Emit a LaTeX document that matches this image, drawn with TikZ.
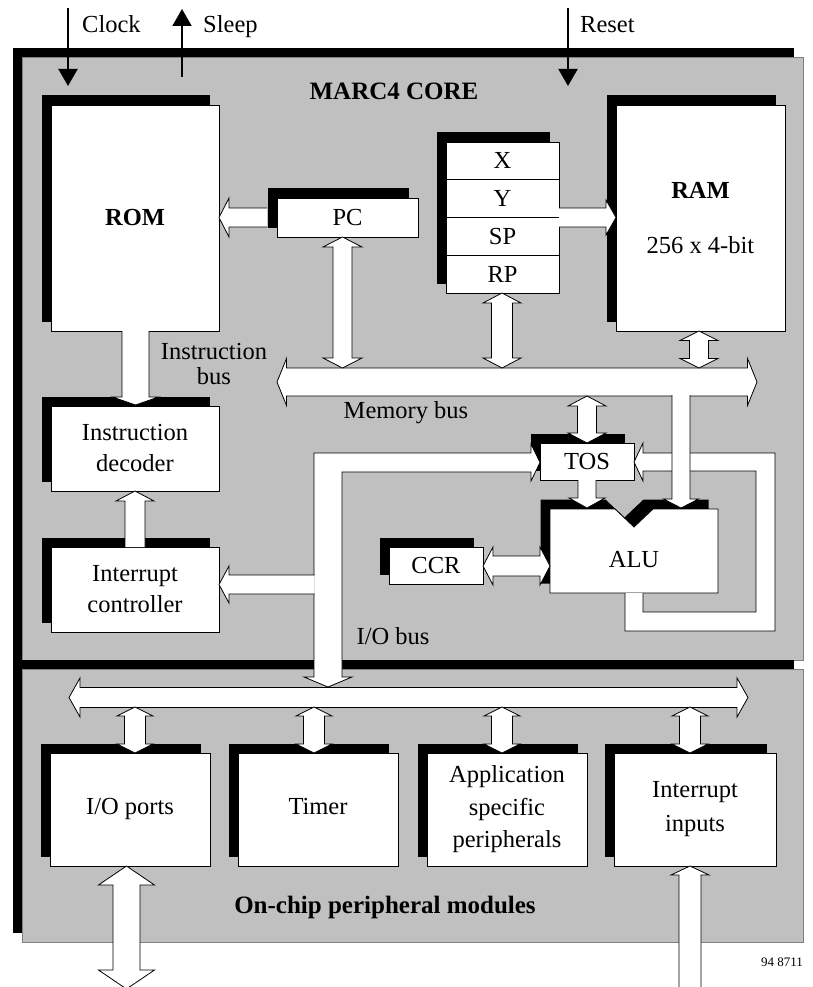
\documentclass[tikz,border=0pt]{standalone}
\usepackage{fontspec}
\setmainfont{Liberation Serif}
\usetikzlibrary{arrows.meta}
\definecolor{panelgray}{HTML}{C0C0C0}
\definecolor{panelline}{HTML}{808080}
\newcommand\myfs{\fontsize{24.5}{26}\selectfont}
\newcommand\mybfs{\fontsize{25}{27}\selectfont\bfseries}
% vertical double arrow: cx, ytop, ybot, shaft half, head half, head length
\newcommand\VDbl[6]{%
 \filldraw[barrow] ({#1-#4},{#2+#6}) -- ({#1-#5},{#2+#6}) -- (#1,#2) -- ({#1+#5},{#2+#6}) -- ({#1+#4},{#2+#6}) -- ({#1+#4},{#3-#6}) -- ({#1+#5},{#3-#6}) -- (#1,#3) -- ({#1-#5},{#3-#6}) -- ({#1-#4},{#3-#6}) -- cycle;}
% horizontal double arrow: cy, xleft, xright, shaft half, head half, head length
\newcommand\HDbl[6]{%
 \filldraw[barrow] ({#2+#6},{#1-#4}) -- ({#2+#6},{#1-#5}) -- (#2,#1) -- ({#2+#6},{#1+#5}) -- ({#2+#6},{#1+#4}) -- ({#3-#6},{#1+#4}) -- ({#3-#6},{#1+#5}) -- (#3,#1) -- ({#3-#6},{#1-#5}) -- ({#3-#6},{#1-#4}) -- cycle;}
% vertical single arrow: cx, ytail, yheadbase, ytip, shaft half, head half
\newcommand\VArr[6]{%
 \fill[white] ({#1-#5},#2) -- ({#1-#5},#3) -- ({#1-#6},#3) -- (#1,#4) -- ({#1+#6},#3) -- ({#1+#5},#3) -- ({#1+#5},#2) -- cycle;
 \draw[bline] ({#1-#5},#2) -- ({#1-#5},#3) -- ({#1-#6},#3) -- (#1,#4) -- ({#1+#6},#3) -- ({#1+#5},#3) -- ({#1+#5},#2);}
% horizontal single arrow: cy, xtail, xheadbase, xtip, shaft half, head half
\newcommand\HArr[6]{%
 \fill[white] (#2,{#1-#5}) -- (#3,{#1-#5}) -- (#3,{#1-#6}) -- (#4,#1) -- (#3,{#1+#6}) -- (#3,{#1+#5}) -- (#2,{#1+#5}) -- cycle;
 \draw[bline] (#2,{#1-#5}) -- (#3,{#1-#5}) -- (#3,{#1-#6}) -- (#4,#1) -- (#3,{#1+#6}) -- (#3,{#1+#5}) -- (#2,{#1+#5});}
% shadowed box: name, x1, y1, x2, y2, text
\newcommand\SBox[6]{%
 \fill[black] ({#2-9.5},{#3-9.5}) rectangle ({#4-9.5},{#5-9.5});
 \node[box, minimum width={#4-#2}, minimum height={#5-#3}] (#1) at ({(#2+#4)/2},{(#3+#5)/2}) {#6};}
\begin{document}
\begin{tikzpicture}[x=1pt,y=-1pt,
  box/.style={draw=black,line width=0.8pt,fill=white,inner sep=0pt,align=center,font=\myfs},
  barrow/.style={fill=white,draw=black,line width=0.8pt,line join=miter},
  bline/.style={draw=black,line width=0.8pt,line join=miter},
  sig/.style={line width=2pt,-{Triangle[length=17pt,width=19pt]}},
  lbl/.style={inner sep=0pt,font=\myfs,align=center},
  panel/.style={fill=panelgray,draw=panelline,line width=0.8pt}]
\useasboundingbox (0,0) rectangle (813,987);
% panels
\fill[black] (13,48) rectangle (794,660);
\draw[panel] (22,57) rectangle (803,660);
\fill[black] (13,660) rectangle (794,933);
\draw[panel] (22,669) rectangle (803,942);
% external signals
\node[lbl,anchor=base west] (clk) at (82,33) {Clock};
\node[lbl,anchor=base west] (slp) at (203,33) {Sleep};
\node[lbl,anchor=base west] (rst) at (580,33) {Reset};
\coordinate (clkA) at (68,8); \coordinate (clkB) at (68,86);
\coordinate (slpA) at (182,77); \coordinate (slpB) at (182,9);
\coordinate (rstA) at (568,8); \coordinate (rstB) at (568,86);
\draw[sig] (clkA) -- (clkB);
\draw[sig] (slpA) -- (slpB);
\draw[sig] (rstA) -- (rstB);
\node[lbl,font=\mybfs,anchor=base] (core) at (394,100) {MARC4 CORE};
% boxes
\SBox{rom}{51}{105}{219}{331}{\bfseries ROM}
\SBox{pc}{277}{198}{418}{237}{PC}
\fill[black] (436.5,132.5) rectangle (549.5,283.5);
\node[box,minimum width=113,minimum height=37.75] (rx) at (502.5,160.9) {X};
\node[box,minimum width=113,minimum height=37.75] (ry) at (502.5,198.6) {Y};
\node[box,minimum width=113,minimum height=37.75] (rsp) at (502.5,236.4) {SP};
\node[box,minimum width=113,minimum height=37.75] (rrp) at (502.5,274.1) {RP};
\SBox{ram}{616}{105}{785}{331}{\textbf{RAM}\\[29pt]256 x 4-bit}
\SBox{dec}{51}{406}{219}{491}{Instruction\\[5pt]decoder}
\SBox{intc}{51}{547}{219}{632}{Interrupt\\[5pt]controller}
\SBox{tos}{540}{443}{634}{480}{TOS}
\SBox{ccr}{389}{547}{483}{584}{CCR}
\SBox{iop}{50}{753}{210}{866}{\strut I/O ports}
\SBox{tmr}{238}{753}{398}{866}{\strut Timer}
\SBox{asp}{427}{753}{587}{866}{Application\\[6.5pt]specific\\[6.5pt]peripherals}
\SBox{inp}{614}{753}{776}{866}{Interrupt\\[8pt]inputs}
% ALU
\fill[black] (540.5,499.5) -- (605.5,499.5) -- (624.5,517.5) -- (643.5,499.5) -- (708.5,499.5) -- (708.5,583.5) -- (540.5,583.5) -- cycle;
\draw[barrow] (550,509) -- (615,509) -- (634,527) -- (653,509) -- (718,509) -- (718,593) -- (550,593) -- cycle;
\node[lbl] (alu) at (634,560) {ALU};
% buses and arrows
\HDbl{382}{277}{757}{14}{23.5}{9.5}
\VDbl{342.5}{237}{368}{9.5}{19.5}{10}
\VDbl{502}{293}{368}{10.5}{19}{10}
\VDbl{699}{331}{368}{9.5}{19}{9.5}
\HArr{217.5}{267}{229}{219}{9.5}{19.5}
\HArr{217.5}{559}{606}{616}{9.5}{17.5}
\VArr{135.5}{331}{397}{405}{13.5}{23}
\VArr{135}{547}{501}{491}{10}{19}
\VDbl{587}{396}{443}{9.5}{19}{10}
\VArr{587}{480}{498}{508}{9}{18}
\HDbl{566}{483}{550}{10}{19}{10}
% ALU feedback loop
\fill[white] (625,593) -- (625,631) -- (775,631) -- (775,453) -- (643,453) -- (643,443) -- (634,462) -- (643,481) -- (643,471) -- (756,471) -- (756,612) -- (643,612) -- (643,593) -- cycle;
\draw[bline] (625,593) -- (625,631) -- (775,631) -- (775,453) -- (643,453) -- (643,443) -- (634,462) -- (643,481) -- (643,471) -- (756,471) -- (756,612) -- (643,612) -- (643,593);
\VArr{681}{395.2}{499}{508}{9}{17.5}
% I/O bus
\filldraw[barrow] (314,453) -- (531,453) -- (531,444) -- (540,462.5) -- (531,481) -- (531,472) -- (342,472) -- (342,677) -- (352,677) -- (328,687) -- (304,677) -- (314,677) -- cycle;
\HArr{584.5}{314.5}{229}{219}{9.5}{18.5}
% peripheral bus
\HDbl{697.5}{69}{748}{10}{19.5}{11}
\VDbl{135}{707}{753}{10.5}{18}{9}
\VDbl{314}{707}{753}{10.5}{18}{9}
\VDbl{502}{707}{753}{10.5}{18}{9}
\VDbl{690}{707}{753}{10.5}{18}{9}
\VDbl{126.5}{866}{989}{13.5}{28}{19}
\VArr{690}{995}{875}{866}{11}{19}
% labels
\node[lbl] (ibus) at (214,364) {Instruction\\[-1pt]bus};
\node[lbl] (mbus) at (406,413) {Memory bus};
\node[lbl] (iobus) at (393,636) {I/O bus};
\node[lbl,font=\mybfs] (onchip) at (385,907) {On-chip peripheral modules};
\node[lbl,font=\fontsize{13}{15}\selectfont] (fig) at (782,962) {94 8711};
\end{tikzpicture}
\end{document}
